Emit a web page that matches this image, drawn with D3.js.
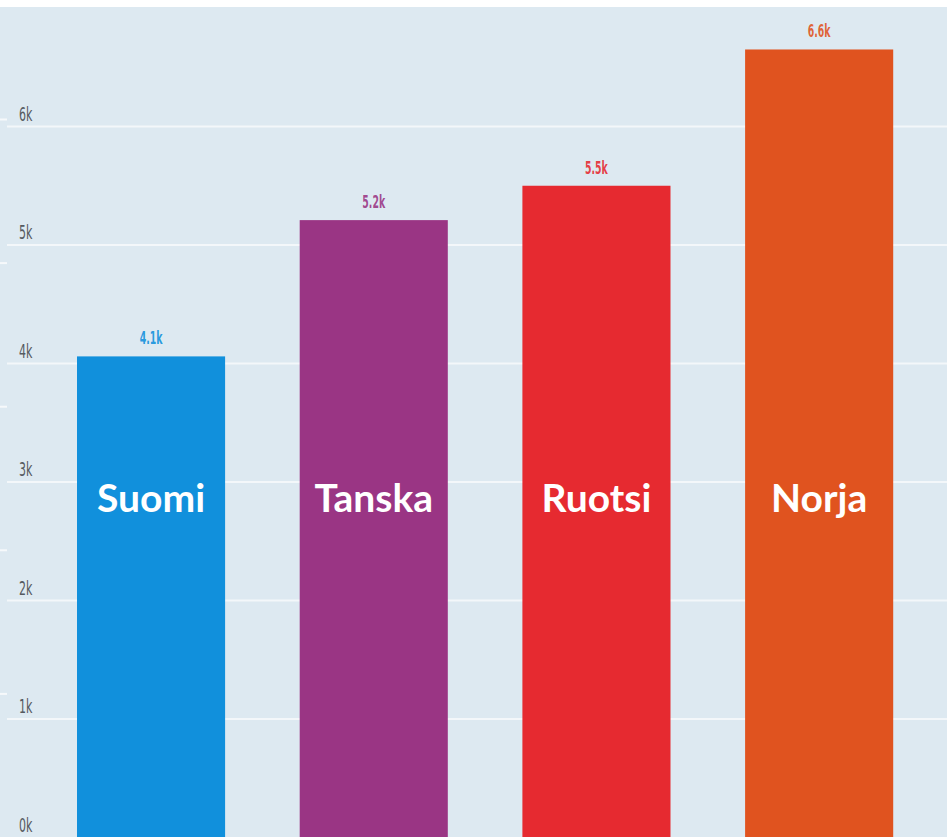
<!DOCTYPE html>
<html>
<head>
<meta charset="utf-8">
<script src="https://d3js.org/d3.v7.min.js"></script>
<style>
  html, body { margin: 0; padding: 0; background: #fff; }
  svg { display: block; }
</style>
</head>
<body>
<svg width="947" height="837"></svg>
<script>
// chart data
var countries = ["Suomi", "Tanska", "Ruotsi", "Norja"];
var values = [4.06, 5.21, 5.5, 6.65];
var valueLabels = ["4.1k", "5.2k", "5.5k", "6.6k"];
var barColors = ["#1190dc", "#9a3584", "#e62a30", "#e0531f"];
var tickValues = [0, 1, 2, 3, 4, 5, 6];
var tickLabels = ["0k", "1k", "2k", "3k", "4k", "5k", "6k"];
var minorTicks = [1, 2, 3, 4, 5];

var svg = d3.select("svg");
var width = 947;
var height = 837;

var y = d3.scaleLinear().domain([0, 7]).range([837.5, 8]);
// the little white marks on the far left follow another spacing
var y2 = d3.scaleLinear().domain([0, 1]).range([837.5, 693.9]);

var x = d3.scaleBand()
    .domain(countries)
    .range([39.7, 930.5])
    .paddingInner(0.335)
    .paddingOuter(0.1675);

// background
svg.append("rect")
    .attr("x", 0)
    .attr("y", y(7) - 1)
    .attr("width", width)
    .attr("height", height - y(7) + 1)
    .attr("fill", "#dde9f1");

// gridlines
svg.append("g")
    .attr("class", "grid")
  .selectAll("line")
  .data(tickValues.filter(function(d) { return d > 0; }))
  .enter().append("line")
    .attr("x1", 7)
    .attr("x2", width)
    .attr("y1", function(d) { return y(d); })
    .attr("y2", function(d) { return y(d); })
    .attr("stroke", "#f3f7fa")
    .attr("stroke-width", 2);

svg.append("g")
  .selectAll("line")
  .data(minorTicks)
  .enter().append("line")
    .attr("x1", 0)
    .attr("x2", 7)
    .attr("y1", function(d) { return y2(d); })
    .attr("y2", function(d) { return y2(d); })
    .attr("stroke", "#f6f9fb")
    .attr("stroke-width", 2);

// tick labels (narrow grey text above each gridline)
svg.append("g")
  .selectAll("text")
  .data(tickValues)
  .enter().append("text")
    .attr("transform", function(d) {
      return "translate(19," + (y(d) - 6) + ") scale(0.55,1)";
    })
    .attr("font-family", "DejaVu Sans")
    .attr("font-size", 20)
    .attr("fill", "#555a60")
    .text(function(d, i) { return tickLabels[i]; });

// bars
var bars = svg.append("g")
  .selectAll("g")
  .data(countries)
  .enter().append("g");

bars.append("rect")
    .attr("x", function(d) { return x(d); })
    .attr("width", x.bandwidth())
    .attr("y", function(d, i) { return y(values[i]); })
    .attr("height", function(d, i) { return y(0) - y(values[i]); })
    .attr("fill", function(d, i) { return barColors[i]; });

bars.append("text")
    .attr("transform", function(d, i) {
      return "translate(" + (x(d) + x.bandwidth() / 2) + "," + (y(values[i]) - 12) + ") scale(0.52,1)";
    })
    .attr("text-anchor", "middle")
    .attr("font-family", "DejaVu Sans")
    .attr("font-weight", "bold")
    .attr("font-size", 18)
    .attr("fill", function(d, i) { return barColors[i]; })
    .attr("fill-opacity", 0.9)
    .text(function(d, i) { return valueLabels[i]; });

bars.append("text")
    .attr("x", function(d) { return x(d) + x.bandwidth() / 2; })
    .attr("y", y(2.75))
    .attr("text-anchor", "middle")
    .attr("font-family", "Lato")
    .attr("font-weight", "bold")
    .attr("font-size", 39)
    .attr("fill", "#fff")
    .text(function(d) { return d; });
</script>
</body>
</html>
